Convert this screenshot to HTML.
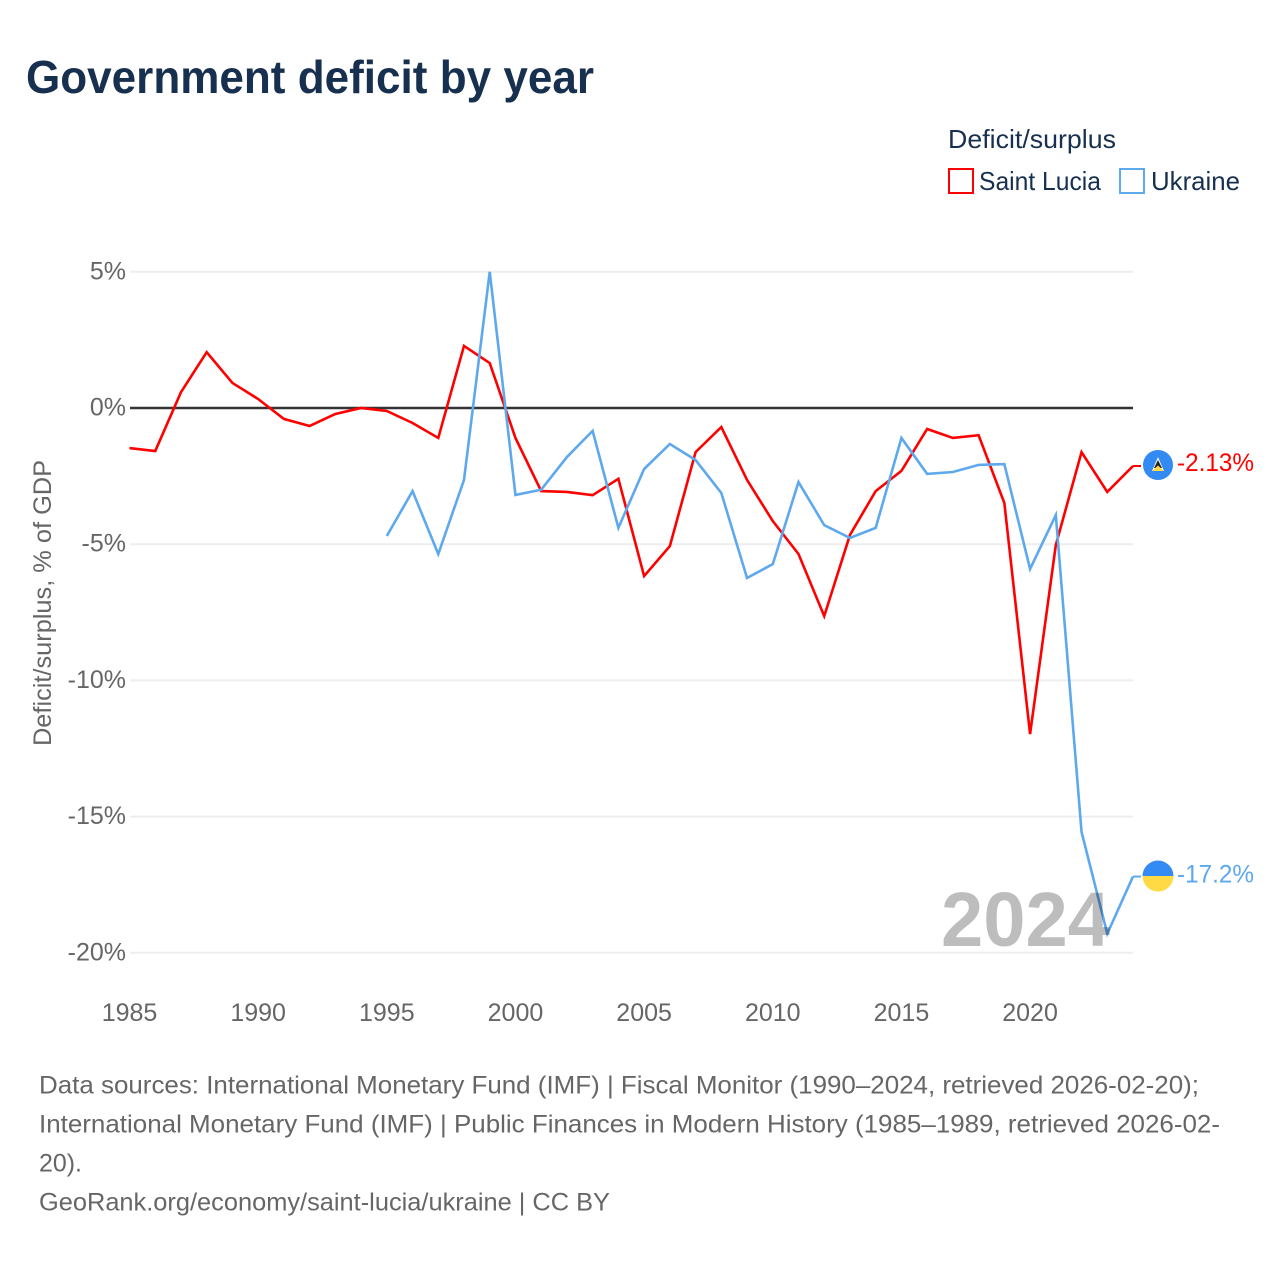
<!DOCTYPE html>
<html lang="en">
<head>
<meta charset="utf-8">
<title>Government deficit by year</title>
<style>
html,body{margin:0;padding:0;background:#fff;}
svg{display:block;font-family:"Liberation Sans",sans-serif;}
</style>
</head>
<body>
<svg id="chart" width="1280" height="1280" viewBox="0 0 1280 1280" xmlns="http://www.w3.org/2000/svg">
  <rect x="0" y="0" width="1280" height="1280" fill="#ffffff"/>
  <text x="26" y="93" font-size="46" font-weight="700" fill="#17304f" textLength="568" lengthAdjust="spacingAndGlyphs">Government deficit by year</text>

  <g>
    <text x="948" y="148" font-size="26" fill="#17304f" textLength="168" lengthAdjust="spacingAndGlyphs">Deficit/surplus</text>
    <g>
      <rect x="949" y="169" width="24" height="24" fill="#ffffff" stroke="#ff0000" stroke-width="2"/>
      <text x="979" y="190" font-size="26" fill="#17304f" textLength="122" lengthAdjust="spacingAndGlyphs">Saint Lucia</text>
    </g>
    <g>
      <rect x="1120" y="169" width="24" height="24" fill="#ffffff" stroke="#5ea8ee" stroke-width="2"/>
      <text x="1151" y="190" font-size="26" fill="#17304f" textLength="89" lengthAdjust="spacingAndGlyphs">Ukraine</text>
    </g>
  </g>

  <text transform="translate(51 603) rotate(-90)" text-anchor="middle" font-size="25" fill="#666666" textLength="286" lengthAdjust="spacingAndGlyphs">Deficit/surplus, % of GDP</text>

  <g id="grid"></g>
  <g id="yticks"></g>
  <g id="xticks"></g>
  <g id="series"></g>
  <text x="941" y="946" font-size="77" font-weight="700" fill="#000000" fill-opacity="0.26" textLength="169" lengthAdjust="spacingAndGlyphs">2024</text>
  <g id="ends"></g>

  <g font-size="25" fill="#666666">
    <text x="39" y="1093.5" textLength="1160" lengthAdjust="spacingAndGlyphs">Data sources: International Monetary Fund (IMF) | Fiscal Monitor (1990–2024, retrieved 2026-02-20);</text>
    <text x="39" y="1132.5" textLength="1181" lengthAdjust="spacingAndGlyphs">International Monetary Fund (IMF) | Public Finances in Modern History (1985–1989, retrieved 2026-02-</text>
    <text x="39" y="1171.5" textLength="43" lengthAdjust="spacingAndGlyphs">20).</text>
    <text x="39" y="1210.5" textLength="571" lengthAdjust="spacingAndGlyphs">GeoRank.org/economy/saint-lucia/ukraine | CC BY</text>
  </g>
</svg>
<script>
const years = [1985,1986,1987,1988,1989,1990,1991,1992,1993,1994,1995,1996,1997,1998,1999,2000,2001,2002,2003,2004,2005,2006,2007,2008,2009,2010,2011,2012,2013,2014,2015,2016,2017,2018,2019,2020,2021,2022,2023,2024];
const saintLucia = [-1.47,-1.58,0.58,2.05,0.92,0.33,-0.4,-0.66,-0.22,0,-0.11,-0.55,-1.1,2.28,1.65,-1.1,-3.05,-3.08,-3.2,-2.6,-6.17,-5.07,-1.62,-0.7,-2.64,-4.15,-5.36,-7.64,-4.66,-3.05,-2.31,-0.77,-1.1,-1,-3.49,-11.97,-5.03,-1.62,-3.08,-2.13];
const ukraine = [null,null,null,null,null,null,null,null,null,null,-4.7,-3.05,-5.36,-2.64,5,-3.19,-3,-1.8,-0.84,-4.4,-2.24,-1.32,-1.91,-3.12,-6.24,-5.73,-2.72,-4.3,-4.77,-4.4,-1.1,-2.42,-2.35,-2.09,-2.06,-5.91,-3.93,-15.56,-19.3,-17.2];
const yTicks = [5,0,-5,-10,-15,-20];
const xTicks = [1985,1990,1995,2000,2005,2010,2015,2020];
const saintLuciaLabel = "-2.13%";
const ukraineLabel = "-17.2%";

const NS = "http://www.w3.org/2000/svg";
const plotLeft = 129.5, plotRight = 1133;
const yearMin = 1985, yearMax = 2024;
const y0 = 408, pxPerPct = 27.24;
function xScale(year){ return plotLeft + (year - yearMin) * (plotRight - plotLeft) / (yearMax - yearMin); }
function yScale(v){ return y0 - v * pxPerPct; }
function mk(tag, attrs, parent){
  const el = document.createElementNS(NS, tag);
  for (const k in attrs) el.setAttribute(k, attrs[k]);
  parent.appendChild(el);
  return el;
}
const gridG = document.getElementById("grid");
const yG = document.getElementById("yticks");
const xG = document.getElementById("xticks");
const seriesG = document.getElementById("series");
const endsG = document.getElementById("ends");

yTicks.forEach(function(t){
  const isZero = t === 0;
  const line = mk("line", {x1: 130, x2: plotRight, y1: yScale(t), y2: yScale(t), stroke: isZero ? "#333333" : "#eeeeee", "stroke-width": isZero ? 2.6 : 2}, isZero ? seriesG : gridG);
  
  
  const label = mk("text", {x: 126, y: yScale(t) + 7.5, "text-anchor": "end", "font-size": 25, fill: "#666666"}, yG);
  label.textContent = t + "%";
  
  
});

xTicks.forEach(function(t){
  const label = mk("text", {x: xScale(t), y: 1021, "text-anchor": "middle", "font-size": 25, fill: "#666666"}, xG);
  label.textContent = String(t);
  
  
});

function linePoints(values){
  const pts = [];
  values.forEach(function(v, i){
    if (v !== null) pts.push(xScale(years[i]).toFixed(2) + "," + yScale(v).toFixed(2));
  });
  return pts.join(" ");
}

const lineSL = mk("polyline", {points: linePoints(saintLucia), fill: "none", stroke: "#ff0000", "stroke-width": 2.6, "stroke-linejoin": "miter"}, seriesG);


const lineUA = mk("polyline", {points: linePoints(ukraine), fill: "none", stroke: "#5ea8ee", "stroke-width": 2.6, "stroke-linejoin": "miter"}, seriesG);



const lastSL = yScale(saintLucia[saintLucia.length - 1]);
const lastUA = yScale(ukraine[ukraine.length - 1]);
const cx = 1158;

const connSL = mk("line", {x1: plotRight, x2: 1141, y1: lastSL, y2: lastSL, stroke: "#ff0000", "stroke-width": 2}, endsG);


const connUA = mk("line", {x1: plotRight, x2: 1141, y1: lastUA, y2: lastUA, stroke: "#5ea8ee", "stroke-width": 2}, endsG);



const flagSL = mk("g", {transform: "translate(" + cx + " " + (lastSL - 1) + ")"}, endsG);


mk("circle", {cx: 0, cy: 0, r: 15, fill: "#338af3"}, flagSL);
mk("polygon", {points: "0,-8 6,6 -6,6", fill: "#ffffff"}, flagSL);
mk("polygon", {points: "0,-5 4,3 -4,3", fill: "#222222"}, flagSL);
mk("polygon", {points: "0,0.5 6,6 -6,6", fill: "#ffda44"}, flagSL);

const flagUA = mk("g", {transform: "translate(" + cx + " " + (lastUA - 0.5) + ")"}, endsG);


mk("path", {d: "M-15.5 0 A15.5 15.5 0 0 1 15.5 0 Z", fill: "#338af3"}, flagUA);
mk("path", {d: "M-15.5 0 A15.5 15.5 0 0 0 15.5 0 Z", fill: "#ffda44"}, flagUA);

const endSL = mk("text", {x: 1177, y: lastSL + 5, "font-size": 25, fill: "#ff0000", textLength: 77, lengthAdjust: "spacingAndGlyphs"}, endsG);
endSL.textContent = saintLuciaLabel;


const endUA = mk("text", {x: 1177, y: lastUA + 6, "font-size": 25, fill: "#5ea8ee", textLength: 77, lengthAdjust: "spacingAndGlyphs"}, endsG);
endUA.textContent = ukraineLabel;


</script>
</body>
</html>
